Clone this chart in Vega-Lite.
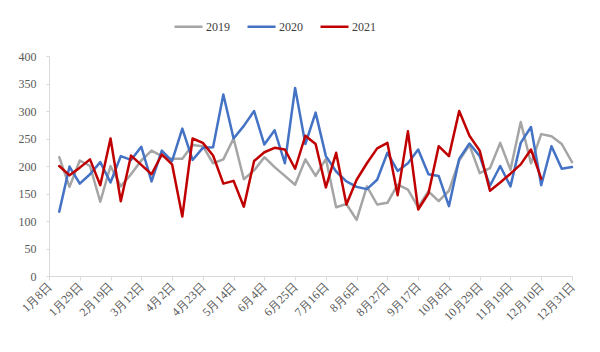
{
  "$schema": "https://vega.github.io/schema/vega-lite/v6.json",
  "width": 523,
  "height": 220,
  "autosize": {"type": "none"},
  "padding": {"left": 49, "top": 56, "right": 28, "bottom": 76},
  "background": "white",
  "config": {"view": {"stroke": null}, "font": "Liberation Serif"},
  "data": {"values": [
    {"d": "1月15日", "2019": 216, "2020": 117, "2021": 200},
    {"d": "1月22日", "2019": 162, "2020": 199, "2021": 183},
    {"d": "1月29日", "2019": 210, "2020": 168, "2021": 197},
    {"d": "2月5日", "2019": 200, "2020": 185, "2021": 212},
    {"d": "2月12日", "2019": 135, "2020": 207, "2021": 165},
    {"d": "2月19日", "2019": 200, "2020": 170, "2021": 250},
    {"d": "2月26日", "2019": 163, "2020": 218, "2021": 136},
    {"d": "3月5日", "2019": 185, "2020": 211, "2021": 219},
    {"d": "3月12日", "2019": 210, "2020": 235, "2021": 202},
    {"d": "3月19日", "2019": 228, "2020": 172, "2021": 185},
    {"d": "3月26日", "2019": 218, "2020": 228, "2021": 221},
    {"d": "4月2日", "2019": 213, "2020": 209, "2021": 203},
    {"d": "4月9日", "2019": 213, "2020": 268, "2021": 108},
    {"d": "4月16日", "2019": 238, "2020": 211, "2021": 250},
    {"d": "4月23日", "2019": 236, "2020": 233, "2021": 242},
    {"d": "4月30日", "2019": 205, "2020": 234, "2021": 219},
    {"d": "5月7日", "2019": 212, "2020": 330, "2021": 168},
    {"d": "5月14日", "2019": 250, "2020": 250, "2021": 173},
    {"d": "5月21日", "2019": 176, "2020": 273, "2021": 126},
    {"d": "5月28日", "2019": 192, "2020": 300, "2021": 209},
    {"d": "6月4日", "2019": 216, "2020": 239, "2021": 225},
    {"d": "6月11日", "2019": 198, "2020": 265, "2021": 233},
    {"d": "6月18日", "2019": 182, "2020": 205, "2021": 230},
    {"d": "6月25日", "2019": 166, "2020": 342, "2021": 195},
    {"d": "7月2日", "2019": 212, "2020": 240, "2021": 255},
    {"d": "7月9日", "2019": 182, "2020": 297, "2021": 240},
    {"d": "7月16日", "2019": 213, "2020": 218, "2021": 161},
    {"d": "7月23日", "2019": 125, "2020": 190, "2021": 224},
    {"d": "7月30日", "2019": 131, "2020": 172, "2021": 130},
    {"d": "8月6日", "2019": 102, "2020": 162, "2021": 175},
    {"d": "8月13日", "2019": 163, "2020": 158, "2021": 205},
    {"d": "8月20日", "2019": 130, "2020": 175, "2021": 232},
    {"d": "8月27日", "2019": 133, "2020": 224, "2021": 242},
    {"d": "9月3日", "2019": 166, "2020": 191, "2021": 147},
    {"d": "9月10日", "2019": 157, "2020": 205, "2021": 263},
    {"d": "9月17日", "2019": 125, "2020": 230, "2021": 121},
    {"d": "9月24日", "2019": 154, "2020": 185, "2021": 150},
    {"d": "10月1日", "2019": 136, "2020": 182, "2021": 236},
    {"d": "10月8日", "2019": 155, "2020": 127, "2021": 218},
    {"d": "10月15日", "2019": 210, "2020": 213, "2021": 300},
    {"d": "10月22日", "2019": 238, "2020": 241, "2021": 255},
    {"d": "10月29日", "2019": 187, "2020": 218, "2021": 228},
    {"d": "11月5日", "2019": 196, "2020": 164, "2021": 155},
    {"d": "11月12日", "2019": 242, "2020": 200, "2021": 170},
    {"d": "11月19日", "2019": 193, "2020": 163, "2021": 186},
    {"d": "11月26日", "2019": 280, "2020": 242, "2021": 203},
    {"d": "12月3日", "2019": 205, "2020": 271, "2021": 230},
    {"d": "12月10日", "2019": 258, "2020": 165, "2021": 177},
    {"d": "12月17日", "2019": 254, "2020": 236, "2021": null},
    {"d": "12月24日", "2019": 240, "2020": 195, "2021": null},
    {"d": "12月31日", "2019": 207, "2020": 198, "2021": null}
  ]},
  "transform": [{"fold": ["2019", "2020", "2021"], "as": ["year", "v"]}],
  "mark": {"type": "line", "strokeJoin": "round", "strokeCap": "round"},
  "encoding": {
    "x": {
      "field": "d", "type": "ordinal", "sort": null,
      "scale": {"type": "point", "padding": 0, "domain": ["1月8日","1月15日","1月22日","1月29日","2月5日","2月12日","2月19日","2月26日","3月5日","3月12日","3月19日","3月26日","4月2日","4月9日","4月16日","4月23日","4月30日","5月7日","5月14日","5月21日","5月28日","6月4日","6月11日","6月18日","6月25日","7月2日","7月9日","7月16日","7月23日","7月30日","8月6日","8月13日","8月20日","8月27日","9月3日","9月10日","9月17日","9月24日","10月1日","10月8日","10月15日","10月22日","10月29日","11月5日","11月12日","11月19日","11月26日","12月3日","12月10日","12月17日","12月24日","12月31日"]},
      "axis": {
        "title": null,
        "values": ["1月8日","1月29日","2月19日","3月12日","4月2日","4月23日","5月14日","6月4日","6月25日","7月16日","8月6日","8月27日","9月17日","10月8日","10月29日","11月19日","12月10日","12月31日"],
        "labelAngle": -45, "labelAlign": "right", "labelBaseline": "middle",
        "labelFont": "Liberation Serif", "labelFontSize": 12, "labelColor": "#595959",
        "labelPadding": 4, "labelOverlap": false,
        "domainColor": "#D9D9D9", "domainWidth": 1, "tickColor": "#D9D9D9", "tickSize": 4, "grid": false
      }
    },
    "y": {
      "field": "v", "type": "quantitative",
      "scale": {"domain": [0, 400]},
      "axis": {
        "title": null, "values": [0, 50, 100, 150, 200, 250, 300, 350, 400],
        "labelFont": "Liberation Serif", "labelFontSize": 12, "labelColor": "#595959",
        "labelPadding": 10, "domainColor": "#D9D9D9", "tickColor": "#D9D9D9", "tickSize": 3, "grid": false
      }
    },
    "color": {
      "field": "year", "type": "nominal",
      "scale": {"domain": ["2019", "2020", "2021"], "range": ["#A5A5A5", "#4472C4", "#C00000"]},
      "legend": {
        "title": null, "orient": "none", "direction": "horizontal",
        "legendX": 124, "legendY": -45,
        "symbolType": "stroke", "symbolSize": 784, "symbolStrokeWidth": 3.5,
        "labelFont": "Liberation Serif", "labelFontSize": 12, "labelColor": "#404040",
        "labelOffset": 2, "columnPadding": 12
      }
    },
    "strokeWidth": {
      "field": "year", "type": "ordinal",
      "scale": {"domain": ["2019", "2020", "2021"], "range": [2.5, 2.5, 3.5]},
      "legend": null
    }
  }
}
